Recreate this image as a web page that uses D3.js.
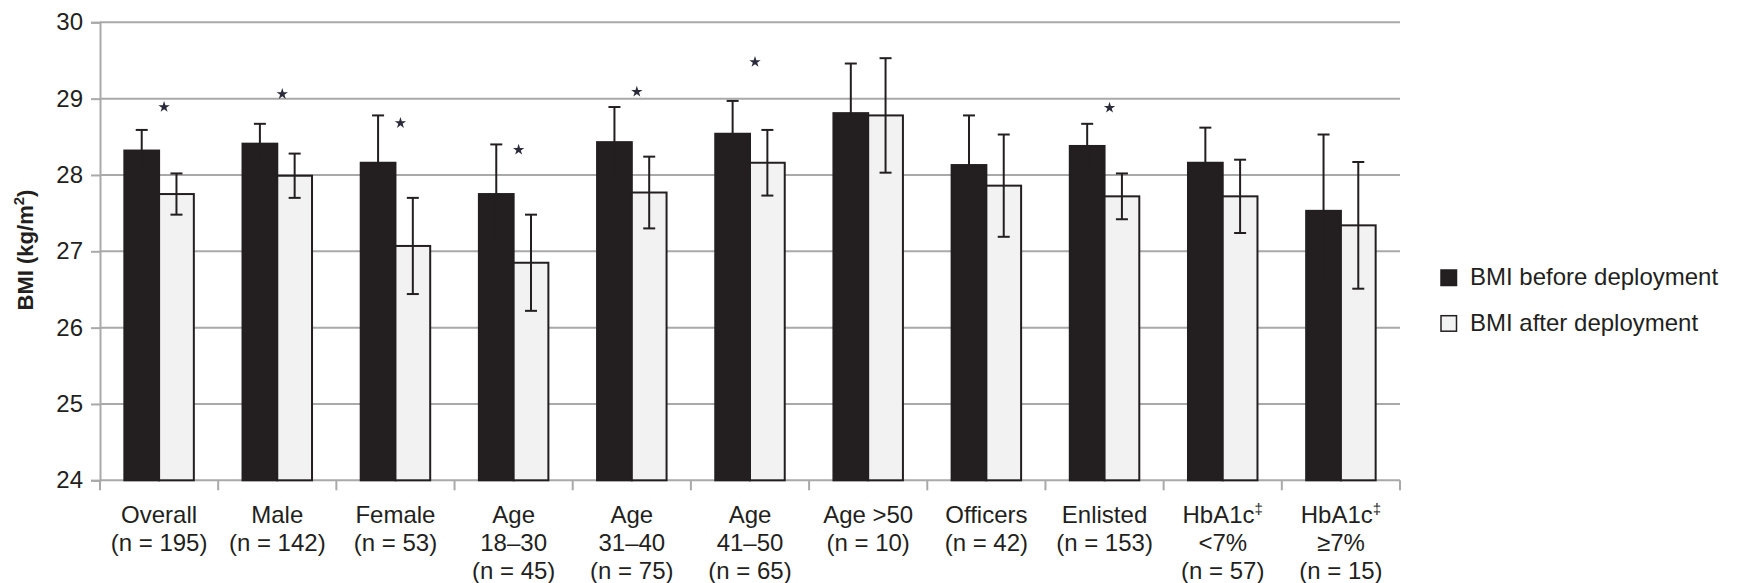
<!DOCTYPE html>
<html>
<head>
<meta charset="utf-8">
<script src="https://cdn.jsdelivr.net/npm/d3@7"></script>
<style>
	body { margin: 0; background: #fff; }
	text { font-family: "Liberation Sans", Arial, sans-serif; fill: #231f20; }
</style>
</head>
<body>
<svg id="canvas" width="1747" height="583"></svg>
<script>
// data
var categories = ["Overall", "Male", "Female", "Age 18-30", "Age 31-40", "Age 41-50", "Age >50", "Officers", "Enlisted", "HbA1c <7%", "HbA1c >=7%"];
var labelLines = [
	["Overall", "(n = 195)"],
	["Male", "(n = 142)"],
	["Female", "(n = 53)"],
	["Age", "18\u201330", "(n = 45)"],
	["Age", "31\u201340", "(n = 75)"],
	["Age", "41\u201350", "(n = 65)"],
	["Age >50", "(n = 10)"],
	["Officers", "(n = 42)"],
	["Enlisted", "(n = 153)"],
	["HbA1c\u2021", "<7%", "(n = 57)"],
	["HbA1c\u2021", "\u22657%", "(n = 15)"]
];
var seriesNames = ["BMI before deployment", "BMI after deployment"];
var before = [28.32, 28.41, 28.16, 27.75, 28.43, 28.54, 28.81, 28.13, 28.38, 28.16, 27.53];
var beforeErr = [0.27, 0.26, 0.62, 0.65, 0.46, 0.43, 0.65, 0.65, 0.29, 0.46, 1.00];
var after = [27.75, 27.99, 27.07, 26.85, 27.77, 28.16, 28.78, 27.86, 27.72, 27.72, 27.34];
var afterErr = [0.27, 0.29, 0.63, 0.63, 0.47, 0.43, 0.75, 0.67, 0.30, 0.48, 0.83];
var starLevel = [28.89, 29.06, 28.68, 28.33, 29.09, 29.48, null, null, 28.88, null, null];
var yTicks = [24, 25, 26, 27, 28, 29, 30];

var svg = d3.select("#canvas");
var plotLeft = 100, plotRight = 1400, plotTop = 22.3, plotBottom = 480.3;
var ink = "#231f20", grid = "#a9a9a9";

var x = d3.scaleBand().domain(categories).range([plotLeft, plotRight]);
var bw = x.bandwidth();
var xs = d3.scaleBand().domain(seriesNames).range([bw * 0.206, bw * 0.794]);
var y = d3.scaleLinear().domain([24, 30]).range([plotBottom, plotTop]);

// gridlines
svg.append("g").selectAll("line")
	.data(yTicks.slice(1))
	.enter().append("line")
	.attr("x1", plotLeft).attr("x2", plotRight)
	.attr("y1", function(d){ return y(d); })
	.attr("y2", function(d){ return y(d); })
	.attr("stroke", grid).attr("stroke-width", 2);

// y axis
var yAxis = svg.append("g")
	.attr("transform", "translate(" + plotLeft + ",0)")
	.call(d3.axisLeft(y).tickValues(yTicks).tickSize(9).tickPadding(8).tickFormat(d3.format("d")));
yAxis.select(".domain").attr("stroke", grid).attr("stroke-width", 2);
yAxis.selectAll(".tick line").attr("stroke", grid).attr("stroke-width", 2);
yAxis.selectAll(".tick text").attr("font-size", 24).attr("font-family", null).attr("fill", ink);

// x axis line and ticks at band edges
svg.append("line")
	.attr("x1", plotLeft).attr("x2", plotRight)
	.attr("y1", plotBottom).attr("y2", plotBottom)
	.attr("stroke", grid).attr("stroke-width", 2);
var edges = categories.map(function(c){ return x(c); }).concat([plotRight]);
svg.append("g").selectAll("line")
	.data(edges)
	.enter().append("line")
	.attr("x1", function(d){ return d; }).attr("x2", function(d){ return d; })
	.attr("y1", plotBottom).attr("y2", plotBottom + 10)
	.attr("stroke", grid).attr("stroke-width", 2);

// category labels
var lab = svg.append("g").selectAll("text")
	.data(labelLines)
	.enter().append("text")
	.attr("text-anchor", "middle")
	.attr("font-size", 24)
	.attr("x", function(d, i){ return x(categories[i]) + bw / 2; })
	.attr("y", 523);
lab.each(function(lines){
	var t = d3.select(this), cx = t.attr("x"), shift = 0;
	lines.forEach(function(line, i){
		var dy = (i == 0 ? 0 : 28) + shift;
		shift = 0;
		var sp = t.append("tspan").attr("x", cx).attr("dy", dy);
		if (line.indexOf("\u2021") >= 0) {
			sp.text(line.replace("\u2021", ""));
			t.append("tspan").attr("font-size", 15).attr("dy", -9).text("\u2021");
			shift = 9;
		} else sp.text(line);
	});
});

// bars
var rows = categories.map(function(c, i){
	return [
		{cat: c, s: seriesNames[0], v: before[i], e: beforeErr[i]},
		{cat: c, s: seriesNames[1], v: after[i], e: afterErr[i]}
	];
});
var groups = svg.append("g").selectAll("g")
	.data(rows)
	.enter().append("g")
	.attr("transform", function(d){ return "translate(" + x(d[0].cat) + ",0)"; });

groups.selectAll("rect")
	.data(function(d){ return d; })
	.enter().append("rect")
	.attr("x", function(d){ return xs(d.s); })
	.attr("width", xs.bandwidth())
	.attr("y", function(d){ return y(d.v); })
	.attr("height", function(d){ return plotBottom - y(d.v); })
	.attr("fill", function(d){ return d.s == seriesNames[0] ? ink : "#f2f2f2"; })
	.attr("stroke", ink).attr("stroke-width", 2);

// error bars (same ink as the dark bars, so the lower half vanishes inside them)
var cap = 6;
var err = groups.selectAll("g.err")
	.data(function(d){ return d; })
	.enter().append("g").attr("class", "err")
	.attr("stroke", ink).attr("stroke-width", 2);
err.append("line")
	.attr("x1", function(d){ return xs(d.s) + xs.bandwidth() / 2; })
	.attr("x2", function(d){ return xs(d.s) + xs.bandwidth() / 2; })
	.attr("y1", function(d){ return y(d.v + d.e); })
	.attr("y2", function(d){ return y(d.v - d.e); });
err.selectAll("line.cap")
	.data(function(d){ return [d.v + d.e, d.v - d.e].map(function(v){ return {s: d.s, v: v}; }); })
	.enter().append("line").attr("class", "cap")
	.attr("x1", function(d){ return xs(d.s) + xs.bandwidth() / 2 - cap; })
	.attr("x2", function(d){ return xs(d.s) + xs.bandwidth() / 2 + cap; })
	.attr("y1", function(d){ return y(d.v); })
	.attr("y2", function(d){ return y(d.v); });

// significance stars
svg.append("g").selectAll("path")
	.data(starLevel.map(function(v, i){ return {cat: categories[i], v: v}; }).filter(function(d){ return d.v != null; }))
	.enter().append("path")
	.attr("d", d3.symbol().type(d3.symbolStar).size(40))
	.attr("transform", function(d){ return "translate(" + (x(d.cat) + bw / 2 + 5) + "," + y(d.v) + ")"; })
	.attr("fill", "#2a2a3a");

// y title
var yt = svg.append("text")
	.attr("transform", "translate(33,250) rotate(-90)")
	.attr("text-anchor", "middle")
	.attr("font-size", 22)
	.attr("font-weight", "bold");
yt.append("tspan").text("BMI (kg/m");
yt.append("tspan").attr("font-size", 15).attr("dy", -9).text("2");
yt.append("tspan").attr("dy", 9).text(")");

// legend
var leg = svg.append("g").selectAll("g")
	.data(seriesNames)
	.enter().append("g")
	.attr("transform", function(d, i){ return "translate(1441," + (270 + i * 45.7) + ")"; });
leg.append("rect")
	.attr("width", 15.5).attr("height", 15.5)
	.attr("fill", function(d, i){ return i == 0 ? ink : "#f2f2f2"; })
	.attr("stroke", ink).attr("stroke-width", 1.5);
leg.append("text")
	.attr("x", 29).attr("y", 15)
	.attr("font-size", 24)
	.text(function(d){ return d; });
</script>
</body>
</html>
